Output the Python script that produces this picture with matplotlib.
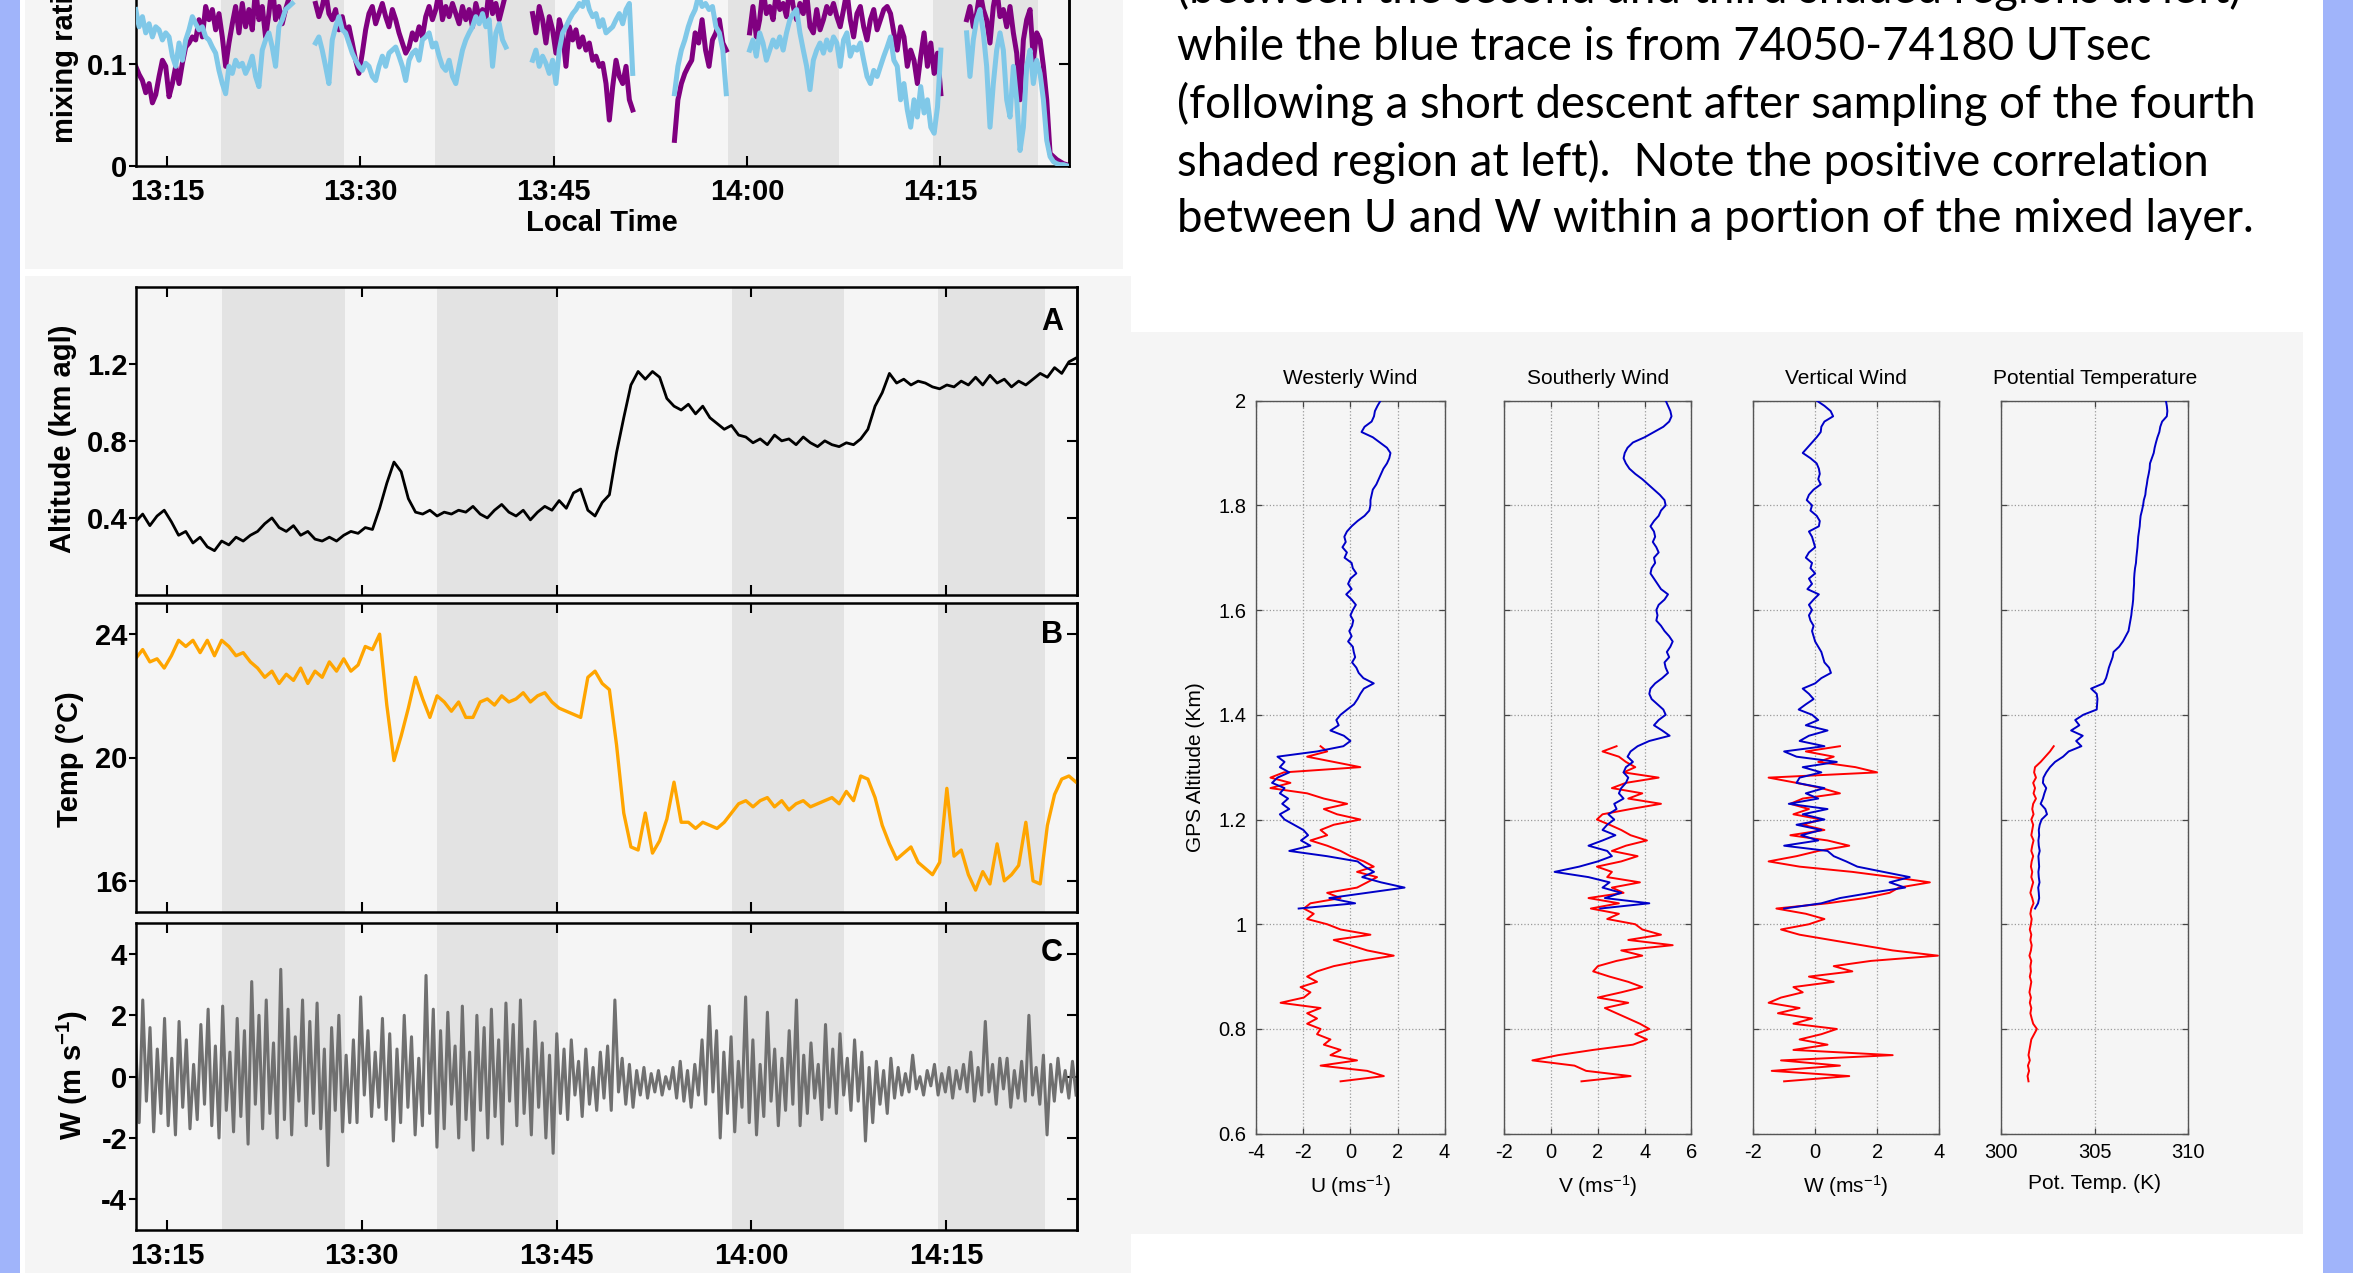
import numpy as np
import matplotlib
matplotlib.use('Agg')
import matplotlib.pyplot as plt
from matplotlib.patches import Rectangle

W_PX, H_PX = 2353, 1273
plt.rcParams['font.family'] = ['Liberation Sans', 'DejaVu Sans']
plt.rcParams['axes.unicode_minus'] = False
plt.rcParams['mathtext.fontset'] = 'custom'
plt.rcParams['mathtext.rm'] = 'Liberation Sans'
plt.rcParams['mathtext.bf'] = 'Liberation Sans:bold'
plt.rcParams['mathtext.default'] = 'regular'

# ---------------- data: time series (minutes after 13:00) ----------------
shade_spans = [(19.2, 28.7), (35.8, 45.1), (58.5, 67.1), (74.4, 82.6)]
time_ticks = [15, 30, 45, 60, 75]
time_labels = ['13:15', '13:30', '13:45', '14:00', '14:15']

mix_segment_times = [(12.57, 24.71), (26.52, 41.29), (43.36, 51.13),
                     (54.37, 58.39), (60.2, 75.04), (77.04, 84.81)]
purple_a = [0.098, 0.090, 0.084, 0.072, 0.081, 0.062, 0.070, 0.088, 0.104, 0.098, 0.068, 0.081,
            0.098, 0.081, 0.101, 0.117, 0.121, 0.127, 0.124, 0.144, 0.127, 0.157, 0.144, 0.154,
            0.134, 0.150, 0.127, 0.098, 0.121, 0.140, 0.157, 0.131, 0.160, 0.137, 0.154, 0.134,
            0.175, 0.144, 0.157, 0.127, 0.150, 0.180, 0.144, 0.157, 0.140, 0.154, 0.165, 0.180]
purple_b = [0.160, 0.147, 0.157, 0.172, 0.150, 0.144, 0.154, 0.134, 0.147, 0.131, 0.137, 0.121,
            0.104, 0.091, 0.111, 0.134, 0.150, 0.157, 0.140, 0.150, 0.160, 0.147, 0.137, 0.154,
            0.144, 0.131, 0.121, 0.111, 0.117, 0.131, 0.124, 0.137, 0.127, 0.147, 0.157, 0.144,
            0.154, 0.172, 0.144, 0.157, 0.147, 0.160, 0.150, 0.140, 0.157, 0.144, 0.154, 0.137,
            0.160, 0.147, 0.154, 0.144, 0.175, 0.150, 0.160, 0.144, 0.157, 0.170]
purple_c = [0.150, 0.131, 0.157, 0.144, 0.121, 0.147, 0.134, 0.111, 0.144, 0.131, 0.098, 0.137,
            0.124, 0.134, 0.117, 0.127, 0.114, 0.121, 0.104, 0.108, 0.098, 0.101, 0.081, 0.045,
            0.078, 0.104, 0.088, 0.081, 0.098, 0.065, 0.055]
purple_d = [0.025, 0.065, 0.081, 0.091, 0.098, 0.104, 0.131, 0.121, 0.144, 0.114, 0.098, 0.124,
            0.131, 0.144, 0.121, 0.114]
purple_e = [0.131, 0.157, 0.127, 0.144, 0.175, 0.150, 0.157, 0.144, 0.172, 0.154, 0.160, 0.147,
            0.178, 0.157, 0.144, 0.160, 0.150, 0.170, 0.137, 0.131, 0.154, 0.134, 0.144, 0.157,
            0.150, 0.160, 0.147, 0.137, 0.154, 0.172, 0.144, 0.127, 0.150, 0.157, 0.137, 0.124,
            0.144, 0.154, 0.134, 0.144, 0.154, 0.157, 0.150, 0.131, 0.114, 0.137, 0.127, 0.098,
            0.114, 0.104, 0.081, 0.108, 0.131, 0.098, 0.121, 0.091, 0.111, 0.071]
purple_f = [0.144, 0.157, 0.137, 0.150, 0.172, 0.154, 0.144, 0.121, 0.157, 0.175, 0.147, 0.154,
            0.137, 0.157, 0.131, 0.111, 0.065, 0.124, 0.144, 0.154, 0.104, 0.131, 0.124, 0.098,
            0.065, 0.012, 0.009, 0.006, 0.004, 0.002, 0.001]
blue_a = [0.154, 0.137, 0.147, 0.131, 0.140, 0.127, 0.137, 0.134, 0.124, 0.131, 0.127, 0.108,
          0.098, 0.121, 0.104, 0.124, 0.134, 0.147, 0.140, 0.134, 0.137, 0.127, 0.124, 0.117,
          0.111, 0.094, 0.081, 0.071, 0.098, 0.091, 0.104, 0.098, 0.101, 0.091, 0.098, 0.108,
          0.088, 0.078, 0.114, 0.124, 0.131, 0.117, 0.098, 0.137, 0.144, 0.154, 0.157, 0.160]
blue_b = [0.121, 0.127, 0.114, 0.098, 0.081, 0.124, 0.137, 0.147, 0.134, 0.131, 0.121, 0.111,
          0.104, 0.098, 0.094, 0.101, 0.098, 0.088, 0.084, 0.098, 0.108, 0.098, 0.111, 0.114,
          0.117, 0.108, 0.098, 0.084, 0.104, 0.111, 0.114, 0.104, 0.124, 0.127, 0.131, 0.117,
          0.121, 0.108, 0.098, 0.094, 0.104, 0.088, 0.081, 0.098, 0.114, 0.124, 0.131, 0.137,
          0.147, 0.140, 0.150, 0.137, 0.144, 0.098, 0.131, 0.140, 0.124, 0.117]
blue_c = [0.104, 0.114, 0.098, 0.108, 0.101, 0.091, 0.104, 0.081, 0.114, 0.131, 0.137, 0.144,
          0.150, 0.154, 0.160, 0.157, 0.168, 0.154, 0.147, 0.150, 0.137, 0.144, 0.131, 0.134,
          0.137, 0.144, 0.150, 0.140, 0.154, 0.160, 0.091]
blue_d = [0.071, 0.098, 0.114, 0.124, 0.137, 0.147, 0.154, 0.168, 0.157, 0.160, 0.154, 0.157,
          0.137, 0.131, 0.114, 0.071]
blue_e = [0.114, 0.124, 0.108, 0.131, 0.121, 0.104, 0.114, 0.124, 0.117, 0.127, 0.114, 0.131,
          0.144, 0.150, 0.154, 0.131, 0.114, 0.098, 0.075, 0.104, 0.114, 0.121, 0.111, 0.124,
          0.114, 0.127, 0.121, 0.098, 0.124, 0.131, 0.108, 0.117, 0.114, 0.121, 0.104, 0.088,
          0.081, 0.094, 0.088, 0.098, 0.108, 0.117, 0.127, 0.104, 0.098, 0.065, 0.081, 0.055,
          0.038, 0.065, 0.048, 0.078, 0.052, 0.065, 0.038, 0.032, 0.058, 0.114]
blue_f = [0.131, 0.088, 0.124, 0.144, 0.154, 0.131, 0.098, 0.038, 0.081, 0.114, 0.131, 0.114,
          0.065, 0.048, 0.098, 0.065, 0.015, 0.038, 0.098, 0.114, 0.081, 0.104, 0.091, 0.065,
          0.025, 0.009, 0.004, 0.002, 0.001, 0.001, 0.000]
purple_segments = [purple_a, purple_b, purple_c, purple_d, purple_e, purple_f]
blue_segments = [blue_a, blue_b, blue_c, blue_d, blue_e, blue_f]

altitude_km = [0.38, 0.42, 0.36, 0.41, 0.44, 0.38, 0.31, 0.33, 0.27, 0.30, 0.25, 0.23, 0.28, 0.26,
               0.30, 0.28, 0.31, 0.33, 0.37, 0.40, 0.35, 0.33, 0.36, 0.31, 0.33, 0.29, 0.28, 0.30,
               0.28, 0.31, 0.33, 0.32, 0.35, 0.34, 0.45, 0.58, 0.69, 0.64, 0.50, 0.43, 0.42, 0.44,
               0.41, 0.43, 0.42, 0.44, 0.43, 0.46, 0.42, 0.40, 0.44, 0.47, 0.43, 0.41, 0.44, 0.39,
               0.43, 0.46, 0.44, 0.49, 0.45, 0.53, 0.55, 0.44, 0.41, 0.48, 0.52, 0.74, 0.92, 1.09,
               1.16, 1.12, 1.16, 1.13, 1.02, 0.98, 0.96, 0.99, 0.94, 0.98, 0.92, 0.89, 0.86, 0.88,
               0.83, 0.82, 0.79, 0.81, 0.78, 0.83, 0.80, 0.81, 0.78, 0.82, 0.79, 0.77, 0.80, 0.78,
               0.77, 0.79, 0.78, 0.81, 0.86, 0.98, 1.05, 1.15, 1.10, 1.12, 1.09, 1.11, 1.10, 1.08,
               1.07, 1.09, 1.08, 1.11, 1.09, 1.13, 1.09, 1.14, 1.10, 1.12, 1.08, 1.11, 1.09, 1.12,
               1.15, 1.13, 1.18, 1.15, 1.21, 1.23]
temperature_c = [23.2, 23.5, 23.1, 23.2, 22.9, 23.3, 23.8, 23.6, 23.8, 23.4, 23.8, 23.3, 23.8, 23.6,
                 23.3, 23.4, 23.1, 22.9, 22.6, 22.8, 22.4, 22.7, 22.5, 22.9, 22.4, 22.8, 22.6, 23.1,
                 22.8, 23.2, 22.8, 23.0, 23.6, 23.5, 24.0, 21.7, 19.9, 20.7, 21.6, 22.6, 21.9, 21.3,
                 22.0, 21.8, 21.5, 21.8, 21.3, 21.3, 21.8, 21.9, 21.7, 22.0, 21.8, 21.9, 22.1, 21.8,
                 22.0, 22.1, 21.8, 21.6, 21.5, 21.4, 21.3, 22.6, 22.8, 22.4, 22.2, 20.4, 18.2, 17.1,
                 17.0, 18.2, 16.9, 17.3, 18.0, 19.2, 17.9, 17.9, 17.7, 17.9, 17.8, 17.7, 17.9, 18.2,
                 18.5, 18.6, 18.4, 18.6, 18.7, 18.4, 18.6, 18.3, 18.5, 18.6, 18.4, 18.5, 18.6, 18.7,
                 18.5, 18.9, 18.6, 19.4, 19.3, 18.7, 17.8, 17.2, 16.7, 16.9, 17.1, 16.6, 16.4, 16.2,
                 16.6, 19.0, 16.8, 17.0, 16.2, 15.7, 16.3, 15.9, 17.2, 16.0, 16.2, 16.5, 17.9, 16.0,
                 15.9, 17.8, 18.8, 19.3, 19.4, 19.2]
vertical_wind = [1.2, -1.5, 2.5, -0.8, 1.6, -1.8, 0.9, -1.2, 1.9, -1.6,
                 0.6, -1.9, 1.8, -1.0, 1.2, -1.7, 0.4, -1.4, 1.7, -0.9,
                 2.2, -1.6, 1.0, -2.0, 2.3, -1.1, 0.8, -1.8, 1.9, -1.3,
                 1.5, -2.2, 3.1, -0.9, 2.0, -1.7, 2.5, -1.2, 1.1, -2.0,
                 3.5, -1.4, 2.2, -1.9, 1.3, -0.8, 2.5, -1.6, 1.8, -1.2,
                 2.4, -1.7, 0.9, -2.9, 1.6, -1.1, 2.0, -1.8, 0.7, -1.5,
                 1.2, -1.5, 2.6, -0.6, 1.5, -1.3, 0.8, -1.0, 1.9, -1.4,
                 1.4, -2.1, 0.9, -1.5, 2.0, -1.0, 1.3, -1.9, 0.6, -1.6,
                 3.3, -1.2, 2.2, -2.3, 1.5, -1.7, 2.1, -0.9, 1.0, -2.0,
                 2.3, -1.4, 0.8, -2.4, 2.0, -1.1, 1.6, -2.0, 2.2, -1.3,
                 1.2, -2.2, 2.4, -0.8, 1.7, -1.6, 2.5, -1.2, 0.9, -1.9,
                 1.8, -1.0, 1.1, -2.0, 0.7, -2.5, 1.4, -1.2, 0.9, -1.4,
                 1.2, -0.6, 0.5, -1.3, 0.9, -0.9, 0.3, -1.1, 0.8, -0.7,
                 1.0, -1.1, 2.5, -0.5, 0.6, -0.9, 0.4, -1.0, 0.2, -0.6,
                 0.3, -0.7, 0.1, -0.5, 0.2, -0.6, 0.0, -0.4, 0.3, -0.7,
                 0.5, -0.8, 0.2, -1.0, 0.4, -0.6, 1.2, -0.9, 2.3, -0.5,
                 1.5, -2.0, 0.8, -1.2, 1.3, -1.8, 0.5, -1.0, 2.6, -1.5,
                 1.2, -1.9, 0.4, -1.3, 2.1, -0.8, 0.9, -1.6, 0.6, -1.1,
                 1.5, -0.9, 2.5, -1.6, 0.7, -1.2, 1.1, -0.7, 0.4, -1.4,
                 1.7, -1.0, 0.9, -1.2, 1.4, -0.6, 0.6, -1.1, 1.2, -0.8,
                 0.8, -2.1, 0.3, -1.5, 0.5, -0.9, 0.2, -1.2, 0.6, -0.7,
                 0.3, -0.6, 0.1, -0.5, 0.7, -0.4, 0.0, -0.6, 0.2, -0.3,
                 0.4, -0.6, 0.1, -0.5, 0.3, -0.7, 0.2, -0.4, 0.4, -0.5,
                 0.8, -0.8, 0.3, -0.6, 1.8, -0.5, 0.4, -0.9, 0.6, -0.4,
                 0.6, -1.0, 0.2, -0.7, 0.5, -0.8, 2.0, -0.6, 0.3, -0.9,
                 0.7, -1.9, 0.4, -0.8, 0.6, -0.5, 0.2, -0.7, 0.5, -0.6]
series_span_bottom = (12.57, 85.0)

# ---------------- data: vertical profiles ----------------
blue_alt_span = (2.00, 1.03)   # km
red_alt_span = (1.34, 0.70)    # km
u_blue = [1.28, 1.15, 1.04, 1.00, 0.90, 0.60, 0.47, 0.95, 1.25, 1.55, 1.70, 1.65, 1.55, 1.40, 1.30,
          1.20, 1.10, 0.95, 0.90, 0.85, 0.85, 0.80, 0.60, 0.30, 0.05, -0.15, -0.26, -0.20, -0.34,
          -0.15, -0.25, 0.05, 0.10, 0.25, 0.00, -0.10, 0.05, -0.18, 0.05, 0.23, 0.10, 0.00, 0.12,
          0.07, -0.05, 0.05, -0.10, 0.10, 0.14, 0.20, 0.07, 0.25, 0.35, 0.55, 0.99, 0.57, 0.42,
          0.30, 0.15, -0.14, -0.42, -0.60, -0.50, -0.85, -0.28, 0.00, -0.30, -1.42, -3.10, -2.80,
          -3.00, -2.60, -3.10, -3.33, -2.80, -3.00, -2.65, -2.90, -2.60, -3.00, -2.80, -2.40,
          -2.00, -1.80, -2.10, -1.70, -2.60, -1.00, 0.30, 0.60, 1.00, 0.50, 1.30, 2.30, 0.70,
          -0.90, 0.20, -2.20]
v_blue = [4.90, 5.00, 5.10, 5.15, 5.05, 4.80, 4.40, 4.00, 3.50, 3.27, 3.15, 3.10, 3.20, 3.35, 3.60,
          3.90, 4.15, 4.40, 4.65, 4.85, 4.90, 4.70, 4.60, 4.40, 4.25, 4.40, 4.45, 4.35, 4.50, 4.60,
          4.40, 4.45, 4.30, 4.25, 4.40, 4.55, 4.70, 5.00, 4.85, 4.60, 4.50, 4.55, 4.50, 4.70, 4.85,
          5.05, 5.20, 5.10, 4.95, 5.05, 4.85, 4.90, 5.00, 4.75, 4.45, 4.25, 4.20, 4.30, 4.55, 4.80,
          4.90, 4.60, 4.40, 4.75, 5.07, 4.20, 3.70, 3.40, 3.27, 3.50, 3.20, 3.10, 3.30, 3.20, 3.00,
          2.90, 3.10, 2.70, 2.80, 2.45, 2.70, 2.40, 2.20, 2.75, 2.20, 1.60, 2.40, 2.60, 2.00, 1.20,
          0.15, 1.60, 2.50, 2.20, 3.00, 2.30, 4.20, 2.10]
w_blue = [0.05, 0.30, 0.50, 0.58, 0.30, 0.20, 0.18, 0.05, -0.10, -0.25, -0.40, -0.15, 0.05, 0.12,
          0.15, 0.10, 0.18, -0.05, -0.20, -0.27, -0.10, -0.15, 0.05, 0.15, 0.12, -0.20, -0.10,
          -0.05, 0.00, -0.20, -0.30, -0.10, -0.15, 0.00, -0.20, -0.10, -0.25, 0.12, -0.05, -0.20,
          -0.10, -0.20, -0.15, -0.05, -0.10, -0.05, 0.00, 0.10, 0.20, 0.25, 0.30, 0.45, 0.51, 0.20,
          0.00, -0.40, -0.20, -0.05, -0.30, -0.53, -0.10, 0.10, -0.30, 0.40, -0.20, -0.50, 0.30,
          -1.00, -0.60, 0.70, -0.40, 0.20, -0.50, -0.60, 0.30, -0.30, 0.10, -0.85, 0.40, -0.40,
          0.30, -0.60, 0.20, -0.45, 0.10, -1.00, 0.40, 0.60, 1.00, 1.36, 2.20, 3.05, 2.40, 2.90,
          1.80, 0.80, 0.20, -1.00]
theta_blue = [308.80, 308.85, 308.88, 308.85, 308.60, 308.50, 308.45, 308.35, 308.27, 308.20,
              308.15, 308.05, 307.95, 307.93, 307.88, 307.82, 307.78, 307.73, 307.70, 307.62,
              307.58, 307.52, 307.45, 307.42, 307.40, 307.36, 307.32, 307.30, 307.28, 307.25,
              307.22, 307.20, 307.15, 307.12, 307.10, 307.10, 307.08, 307.06, 307.05, 307.02,
              306.98, 306.95, 306.90, 306.85, 306.80, 306.65, 306.50, 306.30, 306.00, 305.95,
              305.85, 305.75, 305.68, 305.60, 305.46, 304.80, 305.10, 305.14, 305.12, 305.10,
              304.38, 303.95, 304.17, 303.73, 304.35, 304.00, 304.28, 303.60, 303.30, 302.87,
              302.60, 302.40, 302.25, 302.22, 302.40, 302.30, 302.22, 302.10, 302.35, 302.44,
              302.15, 302.05, 302.00, 302.02, 301.98, 302.00, 302.05, 301.98, 302.00, 302.02,
              301.98, 302.00, 302.04, 301.97, 302.00, 302.02, 301.96, 301.80]
u_red = [-1.27, -0.99, -1.84, -0.71, 0.42, -2.83, -3.40, -2.55, -3.40, -1.84, -1.13, -0.14, -1.13,
         -0.57, 0.42, -0.71, -1.27, -0.99, -1.70, -0.99, -0.42, 0.00, 0.57, 0.99, 0.28, 1.13, 0.71,
         0.28, -0.99, -0.42, -1.70, -1.98, -1.56, -1.84, -0.99, -0.42, 0.85, -0.71, 0.00, 0.71,
         1.84, 0.42, -0.71, -1.42, -1.84, -1.42, -2.12, -1.70, -1.98, -2.97, -1.27, -1.84, -1.42,
         -1.84, -1.27, -1.42, -0.85, -1.13, -0.42, -0.85, 0.28, -1.27, 0.71, 1.42, -0.42]
v_red = [2.80, 2.20, 2.90, 3.20, 3.60, 3.10, 4.60, 3.20, 2.60, 3.90, 3.30, 4.70, 3.40, 2.20, 1.96,
         2.50, 3.00, 3.40, 4.10, 3.20, 2.60, 3.70, 3.00, 1.96, 2.60, 2.40, 3.80, 2.60, 3.10, 1.60,
         2.90, 1.70, 2.90, 2.40, 3.60, 3.90, 4.70, 3.30, 5.20, 3.00, 3.90, 2.80, 2.00, 1.80, 2.50,
         3.30, 3.90, 3.00, 2.00, 3.30, 2.30, 2.80, 3.30, 3.80, 4.20, 3.60, 4.10, 3.50, 1.80, 0.30,
         -0.80, 1.00, 1.50, 3.40, 1.30]
w_red = [0.80, -0.30, 0.60, 0.10, 1.30, 2.00, -1.50, -0.60, 0.20, 0.80, -0.40, -0.80, -0.20, -0.70,
         0.20, -0.40, 0.30, -0.80, 0.40, 1.10, 0.10, -0.60, -1.50, -0.50, 1.20, 2.50, 3.70, 2.70,
         2.40, 1.60, 0.40, -1.25, -0.30, 0.30, -0.20, -1.10, -0.50, 0.50, 1.50, 2.50, 3.96, 1.80,
         0.60, 1.20, -0.20, 0.60, -0.70, -0.40, -1.10, -1.50, -0.50, -1.20, -0.10, -0.70, 0.70,
         0.20, -0.50, 0.40, -0.70, 2.50, -1.10, 0.80, -1.40, 1.10, -1.00]
theta_red = [302.80, 302.60, 302.35, 302.10, 301.80, 301.75, 301.85, 301.70, 301.80, 301.72,
             301.85, 301.70, 301.65, 301.72, 301.60, 301.70, 301.65, 301.60, 301.72, 301.65,
             301.60, 301.70, 301.62, 301.58, 301.65, 301.60, 301.70, 301.62, 301.55, 301.65,
             301.72, 301.60, 301.55, 301.62, 301.58, 301.52, 301.60, 301.55, 301.62, 301.58,
             301.50, 301.60, 301.55, 301.58, 301.52, 301.60, 301.55, 301.50, 301.58, 301.52,
             301.60, 301.55, 301.62, 301.70, 301.90, 301.75, 301.60, 301.55, 301.50, 301.45,
             301.52, 301.42, 301.48, 301.40, 301.45]
alt_ticks = [0.6, 0.8, 1.0, 1.2, 1.4, 1.6, 1.8, 2.0]
alt_tick_labels = ['0.6', '0.8', '1', '1.2', '1.4', '1.6', '1.8', '2']

text_lines = ["(between the second and third shaded regions at left)",
              "while the blue trace is from 74050-74180 UTsec",
              "(following a short descent after sampling of the fourth",
              "shaded region at left).  Note the positive correlation",
              "between U and W within a portion of the mixed layer."]

# ---------------- figure ----------------
fig = plt.figure(figsize=(W_PX / 100, H_PX / 100), dpi=100)
fig.patch.set_facecolor('white')


def frac(x0, y0, x1, y1):
    """pixel box (top-left origin) -> figure fraction rect"""
    return [x0 / W_PX, 1 - y1 / H_PX, (x1 - x0) / W_PX, (y1 - y0) / H_PX]


def bg(x0, y0, x1, y1, color):
    r = frac(x0, y0, x1, y1)
    fig.add_artist(Rectangle((r[0], r[1]), r[2], r[3], transform=fig.transFigure,
                             facecolor=color, edgecolor='none', zorder=-5))


STRIP = '#a0b4fa'
PANEL = '#f5f5f5'
SHADE = '#e3e3e3'
bg(0, 0, 20, H_PX, STRIP)
bg(2323, 0, W_PX, H_PX, STRIP)
bg(25, 0, 1123, 269, PANEL)
bg(25, 276, 1131, H_PX, PANEL)
bg(1131, 332, 2303, 1234, PANEL)

LFS = 21


def time_axes(box, xlim, ylim, yticks, show_xlabels):
    ax = fig.add_axes(frac(*box))
    ax.set_facecolor(PANEL)
    for s0, s1 in shade_spans:
        ax.axvspan(s0, s1, color=SHADE, lw=0, zorder=0)
    ax.set_xlim(xlim)
    ax.set_ylim(ylim)
    ax.set_xticks(time_ticks)
    ax.set_xticklabels(time_labels if show_xlabels else [])
    ax.set_yticks(yticks)
    ax.set_yticklabels(['%g' % v for v in yticks])
    ax.tick_params(axis='x', direction='in', top=True, bottom=True, length=7, width=1.5,
                   labelsize=LFS, pad=9)
    ax.tick_params(axis='y', direction='out', left=True, right=False, length=5, width=1.5,
                   labelsize=LFS, pad=1)
    for lab in ax.get_xticklabels() + ax.get_yticklabels():
        lab.set_fontweight('bold')
    sec = ax.secondary_yaxis('right')
    sec.set_yticks(yticks)
    sec.tick_params(direction='in', length=7, width=1.5, labelright=False)
    sec.spines['right'].set_linewidth(1.8)
    for s in ax.spines.values():
        s.set_linewidth(1.8)
    return ax


# top (cut-off) mixing-ratio panel
ax0 = time_axes((135.5, 165.7 - 304.2, 1068.7, 165.7), (12.55, 84.96), (0, 0.3), [0, 0.1, 0.2], True)
for (t0, t1), pv, bv in zip(mix_segment_times, purple_segments, blue_segments):
    ax0.plot(np.linspace(t0, t1, len(pv)), pv, color='#800080', lw=3.6, zorder=2)
    ax0.plot(np.linspace(t0, t1, len(bv)), bv, color='#80c8e8', lw=3.6, zorder=3)
ax0.set_xlabel('Local Time', fontsize=LFS, fontweight='bold', labelpad=2)
fig.text(65 / W_PX, 1 - 143 / H_PX, 'mixing ratio (ppmv)', rotation=90, ha='center', va='bottom',
         fontsize=LFS, fontweight='bold')

# panel A
axA = time_axes((135.5, 286.7, 1077.4, 595), (12.57, 85.1), (0, 1.6), [0.4, 0.8, 1.2], False)
axA.plot(np.linspace(*series_span_bottom, len(altitude_km)), altitude_km, color='black', lw=2.0)
# panel B
axB = time_axes((135.5, 603.3, 1077.4, 911.7), (12.57, 85.1), (15, 25), [16, 20, 24], False)
axB.plot(np.linspace(*series_span_bottom, len(temperature_c)), temperature_c, color='#ffa500',
         lw=2.4)
# panel C
axC = time_axes((135.5, 923.3, 1077.4, 1230), (12.57, 85.1), (-5, 5), [-4, -2, 0, 2, 4], True)
axC.plot(np.linspace(*series_span_bottom, len(vertical_wind)), vertical_wind, color='#707070',
         lw=2.2)
axC.set_xlabel('Local Time', fontsize=LFS, fontweight='bold', labelpad=2)

for ax, letter, yf in [(axA, 'A', 0.886), (axB, 'B', 0.897), (axC, 'C', 0.903)]:
    ax.text(0.973, yf, letter, transform=ax.transAxes, ha='center', va='center',
            fontsize=22, fontweight='bold')

fig.text(63 / W_PX, 1 - 439 / H_PX, 'Altitude (km agl)', rotation=90, ha='center', va='center',
         fontsize=LFS, fontweight='bold')
fig.text(70 / W_PX, 1 - 759 / H_PX, 'Temp (°C)', rotation=90, ha='center', va='center',
         fontsize=LFS, fontweight='bold')
fig.text(72 / W_PX, 1 - 1075 / H_PX, r'W (m s$^{\mathbf{-1}}$)', rotation=90, ha='center',
         va='center', fontsize=LFS, fontweight='bold')

# ---------------- profile panels ----------------
prof_specs = [
    ((1256.3, 1444.6), (-4, 4), [-4, -2, 0, 2, 4], 'Westerly Wind', r'U (ms$^{-1}$)', u_blue, u_red),
    ((1504.3, 1691.4), (-2, 6), [-2, 0, 2, 4, 6], 'Southerly Wind', r'V (ms$^{-1}$)', v_blue, v_red),
    ((1753.1, 1939.2), (-2, 4), [-2, 0, 2, 4], 'Vertical Wind', r'W (ms$^{-1}$)', w_blue, w_red),
    ((2001.4, 2188.3), (300, 310), [300, 305, 310], 'Potential Temperature', 'Pot. Temp. (K)',
     theta_blue, theta_red),
]
for i, ((x0, x1), xlim, xticks, title, xlabel, bvals, rvals) in enumerate(prof_specs):
    ax = fig.add_axes(frac(x0, 400.6, x1, 1133.7))
    ax.set_facecolor(PANEL)
    ax.set_xlim(xlim)
    ax.set_ylim(0.6, 2.0)
    ax.set_xticks(xticks)
    ax.set_xticklabels(['%g' % v for v in xticks])
    ax.set_yticks(alt_ticks)
    ax.set_yticklabels(alt_tick_labels if i == 0 else [])
    ax.grid(True, ls=':', color='#9a9a9a', lw=0.9)
    ax.tick_params(direction='in', top=True, right=True, length=4, width=0.9,
                   labelsize=14.5, pad=7, color='#444444')
    for s in ax.spines.values():
        s.set_color('#555555')
        s.set_linewidth(1.0)
    ax.plot(rvals, np.linspace(*red_alt_span, len(rvals)), color='#ff0000', lw=1.4, zorder=3)
    ax.plot(bvals, np.linspace(*blue_alt_span, len(bvals)), color='#0000c8', lw=1.4, zorder=4)
    ax.set_title(title, fontsize=15, pad=12)
    ax.set_xlabel(xlabel, fontsize=15, labelpad=8)
    if i == 0:
        ax.set_ylabel('GPS Altitude (Km)', fontsize=15, labelpad=10)

# ---------------- right text block ----------------
TXT_FONT = ['Lato', 'DejaVu Sans']
renderer = fig.canvas.get_renderer()
probe = fig.text(0, 0, text_lines[2], fontsize=26, family=TXT_FONT)
w_probe = probe.get_window_extent(renderer).width
probe.remove()
txt_fs = 26 * 1076 / w_probe
for line, yb in zip(text_lines, [3, 60, 118, 176, 232]):
    fig.text(1176.8 / W_PX, 1 - yb / H_PX, line, fontsize=txt_fs, family=TXT_FONT,
             ha='left', va='baseline', color='black')

fig.savefig('out.png', dpi=100)
